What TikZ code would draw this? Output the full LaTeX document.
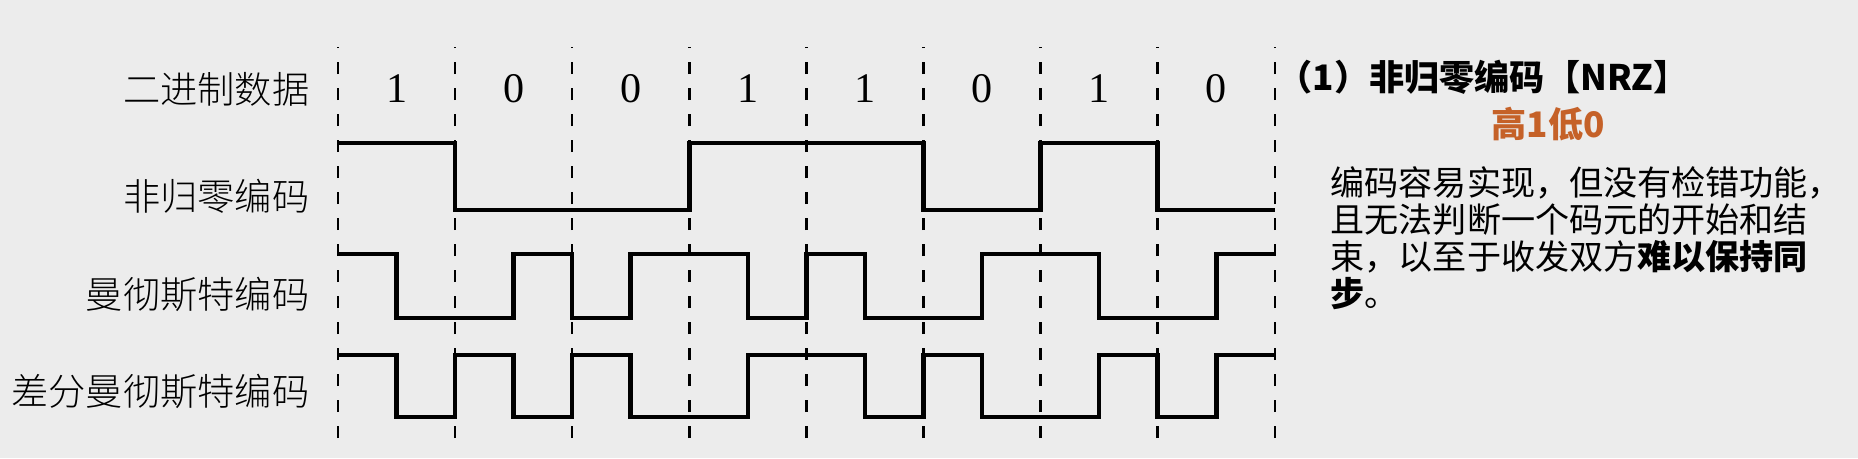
\documentclass[tikz,border=0pt]{standalone}
\usepackage{fontspec}
\setmainfont{Liberation Serif}
\newfontfamily\cjk{Noto Sans CJK SC}
\newfontfamily\cjklight{Noto Sans CJK SC Light}
\definecolor{bggray}{RGB}{236,236,236}
\definecolor{ruleorange}{RGB}{197,97,40}
\begin{document}
\begin{tikzpicture}[
    wave/.style={line width=1.3pt, line join=miter},
    grid/.style={line width=0.7pt, dash pattern=on 0.12cm off 0.14cm},
    rowlabel/.style={anchor=east, inner sep=0pt, font=\cjklight\fontsize{10.6}{12}\selectfont},
    bit/.style={inner sep=0pt, font=\fontsize{12}{14}\selectfont}
]
\fill[bggray] (0,0) rectangle (18.58,4.58);
\useasboundingbox (0,0) rectangle (18.58,4.58);

% row labels
\node[rowlabel] (bin) at (3.10,3.69) {二进制数据};
\node[rowlabel] (nrz) at (3.10,2.62) {非归零编码};
\node[rowlabel] (man) at (3.10,1.64) {曼彻斯特编码};
\node[rowlabel] (dman) at (3.10,0.67) {差分曼彻斯特编码};

\begin{scope}[shift={(3.38,0)}, x=1.171cm]
  \foreach \i in {0,...,8}
    \draw[grid] (\i,0.20) -- (\i,4.11);
  \foreach \b [count=\i] in {1,0,0,1,1,0,1,0}
    \node[bit] (d\i) at (\i-0.5,3.69) {\b};
  % non-return-to-zero
  \draw[wave] (0,3.15) -| (1,2.48) -| (3,3.15) -| (5,2.48) -| (6,3.15) -| (7,2.48) -- (8,2.48);
  % manchester
  \draw[wave] (0,2.04) -| (0.5,1.40) -| (1.5,2.04) -| (2,1.40) -| (2.5,2.04) -| (3.5,1.40)
    -| (4,2.04) -| (4.5,1.40) -| (5.5,2.04) -| (6.5,1.40) -| (7.5,2.04) -- (8,2.04);
  % differential manchester
  \draw[wave] (0,1.03) -| (0.5,0.41) -| (1,1.03) -| (1.5,0.41) -| (2,1.03) -| (2.5,0.41)
    -| (3.5,1.03) -| (4.5,0.41) -| (5,1.03) -| (5.5,0.41) -| (6.5,1.03) -| (7,0.41)
    -| (7.5,1.03) -- (8,1.03);
\end{scope}

% explanation
\node[anchor=west, inner sep=0pt, font=\cjk\bfseries\fontsize{10}{12}\selectfont] (title) at (12.77,3.81) {（1）非归零编码【NRZ】};
\node[inner sep=0pt, text=ruleorange, font=\cjk\bfseries\fontsize{10}{12}\selectfont] (rule) at (15.48,3.34) {高1低0};
\node[anchor=north west, inner sep=0pt, align=left, font=\cjk\fontsize{9.7}{10.5}\selectfont] (desc) at (13.30,2.92)
  {编码容易实现，但没有检错功能，\\且无法判断一个码元的开始和结\\束，以至于收发双方\textbf{难以保持同}\\\textbf{步}。};
\end{tikzpicture}
\end{document}
